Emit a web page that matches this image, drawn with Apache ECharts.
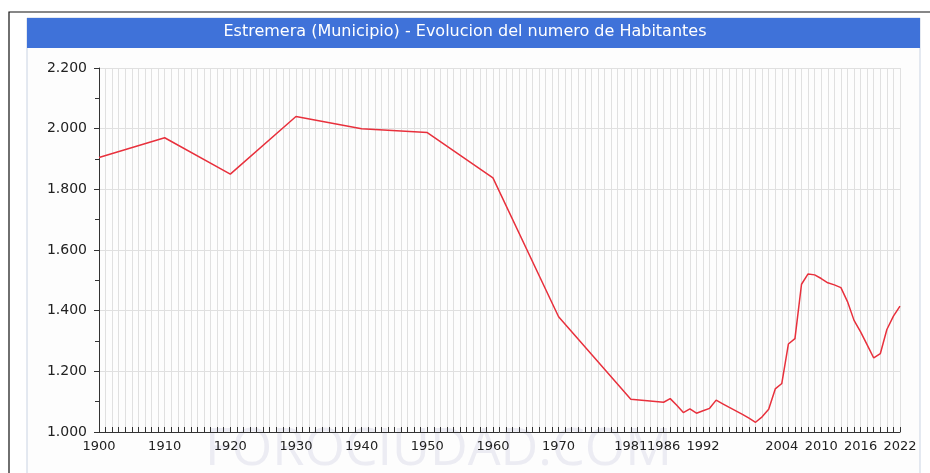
<!DOCTYPE html>
<html>
<head>
<meta charset="utf-8">
<script src="https://cdn.jsdelivr.net/npm/echarts@6/dist/echarts.min.js"></script>
<style>
html,body{margin:0;padding:0;background:#fff;}
#chart{width:930px;height:473px;}
</style>
</head>
<body>
<div id="chart"></div>
<script>
var titleText = 'Estremera (Municipio) - Evolucion del numero de Habitantes';
var years = [1900,1910,1920,1930,1940,1950,1960,1970,1981,1986,1987,1988,1989,1990,1991,1992,1993,1994,1995,1996,1998,1999,2000,2001,2002,2003,2004,2005,2006,2007,2008,2009,2010,2011,2012,2013,2014,2015,2016,2017,2018,2019,2020,2021,2022];
var population = [1905,1970,1850,2040,2000,1987,1838,1380,1108,1098,1110,1088,1064,1076,1062,1070,1078,1105,1093,1081,1058,1046,1032,1050,1075,1142,1160,1290,1308,1487,1521,1518,1506,1492,1485,1476,1430,1368,1330,1287,1244,1258,1338,1382,1415];
var xTickLabels = [1900,1910,1920,1930,1940,1950,1960,1970,1981,1986,1992,2004,2010,2016,2022];

var chart = echarts.init(document.getElementById('chart'), null, {renderer:'canvas'});
var data = years.map(function(y,i){return [y, population[i]];});
var option = {
  animation:false,
  backgroundColor:'#ffffff',
  graphic:[
    {type:'rect', shape:{x:9,y:12,width:930,height:470}, style:{fill:'none', stroke:'#111', lineWidth:1.2}, z:-10},
    {type:'rect', shape:{x:27,y:18,width:893,height:460}, style:{fill:'#fdfdfd', stroke:'#c9d3e3', lineWidth:1}, z:-9},
    {type:'rect', shape:{x:27,y:18,width:893,height:30}, style:{fill:'#3f72d9'}, z:-8},
    {type:'text', left:'center', top:24, style:{text:titleText, fill:'#ffffff', font:'16px "DejaVu Sans"'}, z:-7},
    {type:'text', left:205, top:424, style:{text:'FOROCIUDAD.COM', fill:'#ececf3', font:'52px "Open Sans"'}, z:-6}
  ],
  grid:{left:99, right:30, top:68, bottom:41, show:false},
  xAxis:{
    type:'value', min:1900, max:2022, interval:1,
    axisLine:{show:true, lineStyle:{color:'#333', width:1}},
    axisTick:{show:true, inside:true, length:5, lineStyle:{color:'#333'}},
    splitLine:{show:true, lineStyle:{color:'#e0e0e0', width:1}},
    axisLabel:{
      margin:8, color:'#222', fontFamily:'DejaVu Sans', fontSize:13,
      formatter:function(v){ return xTickLabels.indexOf(v) >= 0 ? String(v) : ''; }
    }
  },
  yAxis:{
    type:'value', min:1000, max:2200, interval:200,
    axisLine:{show:true, lineStyle:{color:'#333', width:1}},
    axisTick:{show:true, length:5, lineStyle:{color:'#333'}},
    minorTick:{show:true, splitNumber:2, length:4, lineStyle:{color:'#333'}},
    splitLine:{show:true, lineStyle:{color:'#e0e0e0', width:1}},
    axisLabel:{
      margin:12, color:'#222', fontFamily:'DejaVu Sans', fontSize:14,
      formatter:function(v){ return (v/1000).toFixed(3); }
    }
  },
  series:[{
    type:'line', data:data, symbol:'none', smooth:false,
    lineStyle:{color:'#e8303c', width:1.5}
  }]
};
chart.setOption(option);
</script>
</body>
</html>
